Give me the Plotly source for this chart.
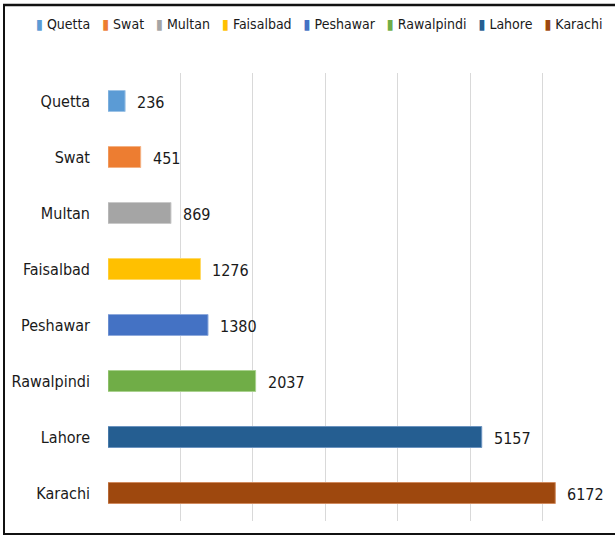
import plotly.graph_objects as go

cities = ["Quetta", "Swat", "Multan", "Faisalbad", "Peshawar", "Rawalpindi", "Lahore", "Karachi"]
values = [236, 451, 869, 1276, 1380, 2037, 5157, 6172]
colors = ["#5B9BD5", "#ED7D31", "#A5A5A5", "#FFC000", "#4472C4", "#70AD47", "#255E91", "#9E480E"]
line_colors = ["#9DC3E6", "#F4B183", "#C9C9C9", "#FFD966", "#8FAADC", "#A9D18E", "#6B93BF", "#D08A5E"]

FONT = "DejaVu Sans Condensed, DejaVu Sans, Liberation Sans, sans-serif"
TXT = "#1a1a1a"

W, H = 616, 536
ML, MR, MT, MB = 108, 0, 73, 15
PW, PH = W - ML - MR, H - MT - MB


def xp(px):
    return (px - ML) / PW


def yp(py):
    return (H - MB - py) / PH


fig = go.Figure()
for c, v, col, lc in zip(cities, values, colors, line_colors):
    fig.add_trace(go.Bar(
        y=[c], x=[v], name=c, orientation="h",
        marker=dict(color=col, line=dict(color=lc, width=1)),
        width=0.375, showlegend=False,
    ))

annotations = [
    dict(x=v, y=c, xref="x", yref="y", text=str(v), showarrow=False,
         xanchor="left", xshift=10, yshift=-1,
         font=dict(family=FONT, size=16, color=TXT))
    for c, v in zip(cities, values)
]

legend_text = "&nbsp;&nbsp;&nbsp;".join(
    f"<span style='color:{col}'>▮</span>&nbsp;{c}" for c, col in zip(cities, colors)
)
annotations.append(dict(
    x=xp(319), y=yp(24), xref="paper", yref="paper", text=legend_text,
    showarrow=False, xanchor="center", yanchor="middle",
    font=dict(family=FONT, size=14, color=TXT),
))

border = dict(color="#111111", width=2)
shapes = [
    dict(type="line", xref="paper", yref="paper", x0=xp(3), x1=xp(615), y0=yp(5), y1=yp(5),
         line=dict(color="#111111", width=2.5)),
    dict(type="line", xref="paper", yref="paper", x0=xp(4), x1=xp(4), y0=yp(4), y1=yp(535), line=border),
    dict(type="line", xref="paper", yref="paper", x0=xp(3), x1=xp(615), y0=yp(534), y1=yp(534), line=border),
]

fig.update_layout(
    width=W, height=H,
    margin=dict(l=ML, r=MR, t=MT, b=MB, autoexpand=False),
    paper_bgcolor="white", plot_bgcolor="white",
    barmode="overlay",
    font=dict(family=FONT, color=TXT),
    showlegend=False,
    xaxis=dict(range=[0, 7010], dtick=1000, showgrid=True, gridcolor="#D9D9D9",
               gridwidth=1, showticklabels=False, zeroline=False, showline=False,
               automargin=False),
    yaxis=dict(categoryorder="array", categoryarray=cities, autorange="reversed",
               showgrid=False, zeroline=False, showline=False, automargin=False,
               ticks="", ticklabelstandoff=17,
               tickfont=dict(family=FONT, size=16, color=TXT)),
    annotations=annotations,
    shapes=shapes,
)

fig.write_html(
    "out.html",
    config={"displayModeBar": False},
    post_script="document.body.style.margin='0';document.body.style.overflow='hidden';",
)
